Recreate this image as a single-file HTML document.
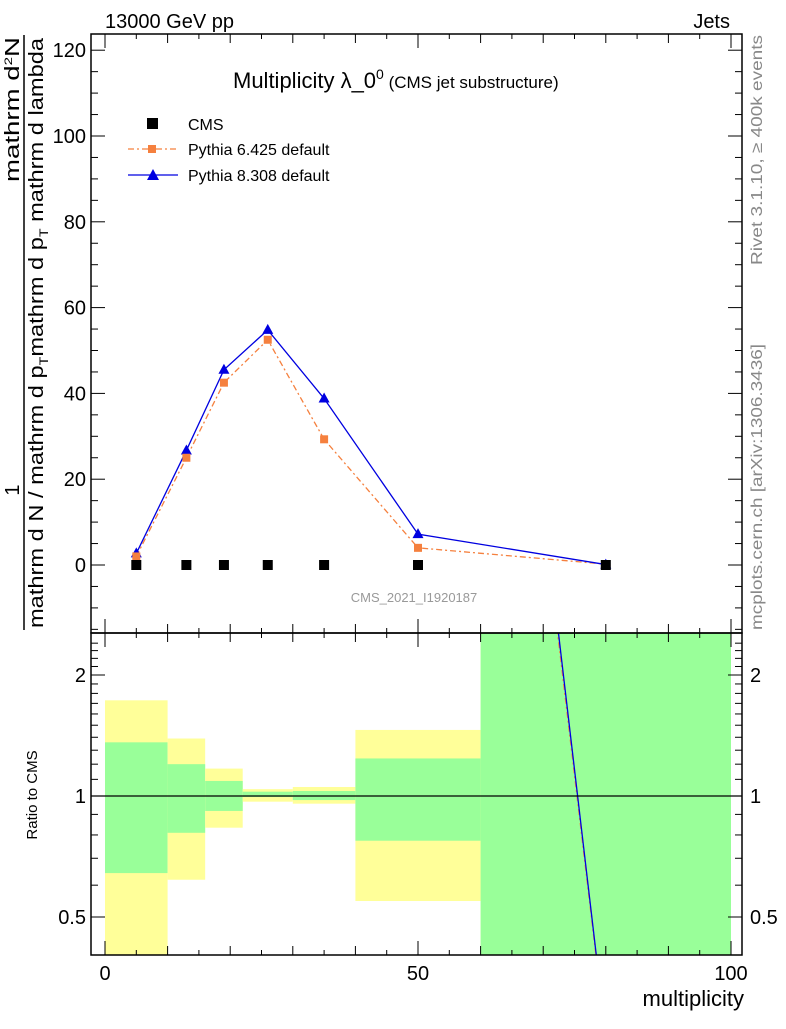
<!DOCTYPE html>
<html><head><meta charset="utf-8"><style>
body{margin:0;background:#fff}
svg text{font-family:"Liberation Sans",sans-serif}
</style></head><body>
<svg id="c" width="786" height="1024" xmlns="http://www.w3.org/2000/svg">
<g id="ratioBands"></g>
<g id="mainG"></g>
<g id="ratioG"></g>
<g id="axes"></g>
<text x="105" y="28" font-size="20">13000 GeV pp</text>
<text x="730" y="28" font-size="20" text-anchor="end">Jets</text>
<text x="233" y="88" font-size="22">Multiplicity λ_0<tspan font-size="14" dy="-9">0</tspan><tspan font-size="17" dy="9"> (CMS jet substructure)</tspan></text>
<text x="414" y="602" font-size="13" fill="#999" text-anchor="middle">CMS_2021_I1920187</text>
<g>
<rect x="147" y="118" width="11" height="11" fill="#000"/>
<text x="188" y="130" font-size="16">CMS</text>
<line x1="128" y1="149" x2="178" y2="149" stroke="#f5803e" stroke-width="1.3" stroke-dasharray="6,3,2,3"/>
<rect x="148" y="145" width="8" height="8" fill="#f5803e"/>
<text x="188" y="155" font-size="16">Pythia 6.425 default</text>
<line x1="128" y1="175" x2="178" y2="175" stroke="#0000e0" stroke-width="1.3"/>
<polygon points="153,169 159,180 147,180" fill="#0000e0"/>
<text x="188" y="181" font-size="16">Pythia 8.308 default</text>
</g>
<g font-size="20">
<text transform="translate(19,182) rotate(-90)" textLength="145" lengthAdjust="spacingAndGlyphs">mathrm d<tspan font-size="11" dy="-7">2</tspan><tspan dy="7">N</tspan></text>
<text transform="translate(19,490) rotate(-90)" text-anchor="middle">1</text>
<line x1="24" y1="35" x2="24" y2="630" stroke="#000" stroke-width="1.5"/>
<text transform="translate(43,628) rotate(-90)" textLength="590" lengthAdjust="spacingAndGlyphs">mathrm d N / mathrm d p<tspan font-size="12" dy="5">T</tspan><tspan dy="-5">mathrm d p</tspan><tspan font-size="12" dy="5">T</tspan><tspan dy="-5"> mathrm d lambda</tspan></text>
</g>
<text transform="translate(37,795) rotate(-90)" font-size="15" text-anchor="middle">Ratio to CMS</text>
<text x="744" y="1006" font-size="22" text-anchor="end">multiplicity</text>
<text transform="translate(762,265) rotate(-90)" font-size="16" fill="#888" textLength="230" lengthAdjust="spacingAndGlyphs">Rivet 3.1.10, ≥ 400k events</text>
<text transform="translate(762,630) rotate(-90)" font-size="16" fill="#888" textLength="286" lengthAdjust="spacingAndGlyphs">mcplots.cern.ch [arXiv:1306.3436]</text>
</svg>
<script>
const binEdges=[0,10,16,22,30,40,60,100];
const xCenters=[5,13,19,26,35,50,80];
const cmsVals=[0,0,0,0,0,0,0];
const py6Vals=[2.0,25,42.5,52.5,29.3,4,0.2];
const py8Vals=[2.7,26.7,45.5,54.8,38.8,7.2,0.1];
const yellowHi=[1.73,1.39,1.17,1.04,1.053,1.46,3];
const yellowLo=[0.3,0.619,0.834,0.968,0.957,0.548,0.3];
const greenHi=[1.36,1.2,1.09,1.025,1.029,1.24,3];
const greenLo=[0.643,0.81,0.918,0.994,0.977,0.774,0.3];
const ratioX=[50,80];
const py6Ratio=[2100,0.25];
const py8Ratio=[2400,0.253];
const yTicks=[0,20,40,60,80,100,120];
const rTicks=[0.5,1,2];
const xTicks=[0,50,100];

const NS='http://www.w3.org/2000/svg';
const L=91,R=742,T=34,MB=633,RB=955;
const X=v=>105+v*6.26;
const Y=v=>565-v*4.29;
const RY=r=>796-121*Math.log2(r);
function mk(p,tag,at){const e=document.createElementNS(NS,tag);for(const k in at)e.setAttribute(k,at[k]);p.appendChild(e);return e;}
const bands=document.getElementById('ratioBands');
const clampY=y=>Math.max(MB,Math.min(RB,y));
for(let i=0;i<binEdges.length-1;i++){
 const x1=X(binEdges[i]),x2=X(binEdges[i+1]);
 let y1=clampY(RY(yellowHi[i])),y2=clampY(RY(yellowLo[i]));
 const yb=mk(bands,'rect',{x:x1,y:y1,width:x2-x1,height:y2-y1,fill:'#ffff99'});
 
 
 y1=clampY(RY(greenHi[i]));y2=clampY(RY(greenLo[i]));
 const gb=mk(bands,'rect',{x:x1,y:y1,width:x2-x1,height:y2-y1,fill:'#99ff99'});
 
 
}
const main=document.getElementById('mainG');
function path(g,xs,ys,fy,col,dash,name){
 const d=xs.map((x,i)=>(i?'L':'M')+X(x)+','+fy(ys[i])).join(' ');
 const p=mk(g,'path',{d:d,fill:'none',stroke:col,'stroke-width':1.3});
 if(dash)p.setAttribute('stroke-dasharray',dash);
 
 
}
path(main,xCenters,py6Vals,Y,'#f5803e','6,3,2,3','py6-line');
path(main,xCenters,py8Vals,Y,'#0000e0',null,'py8-line');
xCenters.forEach((x,i)=>{
 const a=mk(main,'polygon',{points:`${X(x)},${Y(py8Vals[i])-6} ${X(x)+5.5},${Y(py8Vals[i])+4} ${X(x)-5.5},${Y(py8Vals[i])+4}`,fill:'#0000e0'});
 
 
 const b=mk(main,'rect',{x:X(x)-4,y:Y(py6Vals[i])-4,width:8,height:8,fill:'#f5803e'});
 
 
 const c=mk(main,'rect',{x:X(x)-5,y:Y(cmsVals[i])-5,width:10,height:10,fill:'#000'});
 
 
});
const rg=document.getElementById('ratioG');
const cp=mk(rg,'clipPath',{id:'rc'});mk(cp,'rect',{x:L,y:MB,width:R-L,height:RB-MB});
const rgi=mk(rg,'g',{'clip-path':'url(#rc)'});
path(rgi,ratioX,py6Ratio,RY,'#f5803e','6,3,2,3','py6-ratio-line');
path(rgi,ratioX,py8Ratio,RY,'#0000e0',null,'py8-ratio-line');
const ax=document.getElementById('axes');
const one=mk(ax,'line',{x1:L,x2:R,y1:RY(1),y2:RY(1),stroke:'#000','stroke-width':1.2});


mk(ax,'rect',{x:L,y:T,width:R-L,height:MB-T,fill:'none',stroke:'#000','stroke-width':1.5});
mk(ax,'rect',{x:L,y:MB,width:R-L,height:RB-MB,fill:'none',stroke:'#000','stroke-width':1.5});
for(let v=-15;v<=120;v+=5){const len=v%20===0?14:7;
 mk(ax,'line',{x1:L,x2:L+len,y1:Y(v),y2:Y(v),stroke:'#000'});mk(ax,'line',{x1:R,x2:R-len,y1:Y(v),y2:Y(v),stroke:'#000'});}
yTicks.forEach(v=>{const t=mk(ax,'text',{x:86,y:Y(v)+7,'font-size':20,'text-anchor':'end'});t.textContent=v;
 
 });
for(let r=0.4;r<=2.5;r+=0.1){const major=rTicks.some(m=>Math.abs(m-r)<1e-6);const len=major?14:7;const y=RY(r);
 if(y<MB||y>RB)continue;
 mk(ax,'line',{x1:L,x2:L+len,y1:y,y2:y,stroke:'#000'});mk(ax,'line',{x1:R,x2:R-len,y1:y,y2:y,stroke:'#000'});}
rTicks.forEach(r=>{const t1=mk(ax,'text',{x:86,y:RY(r)+7,'font-size':20,'text-anchor':'end'});t1.textContent=r;
 
 
 const t2=mk(ax,'text',{x:750,y:RY(r)+7,'font-size':20});t2.textContent=r;
 
 });
for(let v=0;v<=100;v+=5){const len=v%50===0?14:(v%10===0?9:5);
 [T,MB].forEach(y0=>mk(ax,'line',{x1:X(v),x2:X(v),y1:y0,y2:y0+len,stroke:'#000'}));
 [MB,RB].forEach(y0=>mk(ax,'line',{x1:X(v),x2:X(v),y1:y0,y2:y0-len,stroke:'#000'}));}
xTicks.forEach(v=>{const t=mk(ax,'text',{x:X(v),y:980,'font-size':20,'text-anchor':'middle'});t.textContent=v;
 
 });
</script>
</body></html>
